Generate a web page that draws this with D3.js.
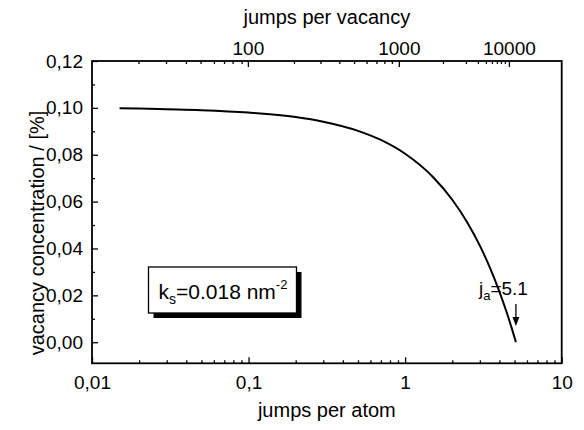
<!DOCTYPE html>
<html><head><meta charset="utf-8">
<script src="https://cdn.jsdelivr.net/npm/d3@7"></script>
<style>
body{margin:0;background:#fff}
text{font-family:"Liberation Sans",Arial,Helvetica,sans-serif;fill:#000}
</style>
</head><body>
<svg id="c" width="584" height="430"></svg>
<script>
// ---- data ----
const jumpsPerAtom = [0.015, 0.02, 0.03, 0.05, 0.1, 0.2, 0.3, 0.5, 0.7, 1.0, 1.5, 2.0, 2.5, 3.0, 3.5, 4.0, 4.5, 4.8, 5.1];
const vacancyConc  = [0.0998, 0.0997, 0.0994, 0.0990, 0.0980, 0.0961, 0.0941, 0.0902, 0.0863, 0.0804, 0.0706, 0.0608, 0.0510, 0.0412, 0.0314, 0.0216, 0.0118, 0.0059, 0.0000];

const xTickValues = [0.01, 0.1, 1, 10];
const xTickLabels = ["0,01", "0,1", "1", "10"];
const xMinorValues = [0.02,0.03,0.04,0.05,0.06,0.07,0.08,0.09,0.2,0.3,0.4,0.5,0.6,0.7,0.8,0.9,2,3,4,5,6,7,8,9];

const yTickValues = [0, 0.02, 0.04, 0.06, 0.08, 0.10, 0.12];
const yTickLabels = ["0,00", "0,02", "0,04", "0,06", "0,08", "0,10", "0,12"];
const yMinorValues = [0.01, 0.03, 0.05, 0.07, 0.09, 0.11];

// top axis: jumps per vacancy, placed at the equivalent jumps per atom
const topTickLabels  = ["100", "1000", "10000"];
const topTickAtAtom  = [0.099, 0.912, 4.60];
const topMinorAtAtom = [0.0198, 0.0297, 0.0398, 0.0494, 0.0601, 0.0697, 0.0791, 0.0903,
                        0.195, 0.288, 0.380, 0.472, 0.567, 0.656, 0.737, 0.823,
                        1.744, 2.445, 2.917, 3.281, 3.584, 3.857, 4.090, 4.338];

const xTitle = "jumps per atom";
const topTitle = "jumps per vacancy";
const yTitle = "vacancy concentration / [%]";
const arrowAtAtom = 5.1;

// ---- layout ----
const W = 584, H = 430;
const m = {left: 92, right: 22.3, top: 61, bottom: 66.7};
const svg = d3.select("#c");

const x = d3.scaleLog().domain([0.01, 10]).range([m.left, W - m.right]);
const y = d3.scaleLinear().domain([-0.009, 0.12]).range([H - m.bottom, m.top]);

const fs = 19;

// minor ticks
svg.append("g").attr("transform", `translate(0,${H - m.bottom})`)
  .call(d3.axisBottom(x).tickValues(xMinorValues).tickFormat("").tickSize(-3))
  .call(g => g.select(".domain").remove());
svg.append("g").attr("transform", `translate(${m.left},0)`)
  .call(d3.axisLeft(y).tickValues(yMinorValues).tickFormat("").tickSize(-3))
  .call(g => g.select(".domain").remove());
svg.append("g").attr("transform", `translate(0,${m.top})`)
  .call(d3.axisTop(x).tickValues(topMinorAtAtom).tickFormat("").tickSize(-3))
  .call(g => g.select(".domain").remove());

// major axes
const bx = svg.append("g").attr("transform", `translate(0,${H - m.bottom})`)
  .call(d3.axisBottom(x).tickValues(xTickValues).tickFormat((d,i)=>xTickLabels[i]).tickSize(-6).tickPadding(12));
const ly = svg.append("g").attr("transform", `translate(${m.left},0)`)
  .call(d3.axisLeft(y).tickValues(yTickValues).tickFormat((d,i)=>yTickLabels[i]).tickSize(-6).tickPadding(9));
const tx = svg.append("g").attr("transform", `translate(0,${m.top})`)
  .call(d3.axisTop(x).tickValues(topTickAtAtom).tickFormat((d,i)=>topTickLabels[i]).tickSize(-6).tickPadding(6));

[bx, ly, tx].forEach(g => {
  g.select(".domain").remove();
  g.selectAll("text").attr("font-size", fs).attr("font-family", null);
});
svg.selectAll("g.tick line").attr("stroke", "#000").attr("stroke-width", 1.3);

// frame
svg.append("rect")
  .attr("x", m.left).attr("y", m.top)
  .attr("width", W - m.left - m.right).attr("height", H - m.top - m.bottom)
  .attr("fill", "none").attr("stroke", "#000").attr("stroke-width", 1.8);

// curve
const line = d3.line().x((d,i)=>x(jumpsPerAtom[i])).y(d=>y(d)).curve(d3.curveMonotoneX);
svg.append("path").datum(vacancyConc)
  .attr("d", line).attr("fill", "none").attr("stroke", "#000").attr("stroke-width", 2);

// titles
const cx = (m.left + W - m.right) / 2;
svg.append("text").attr("x", cx).attr("y", 417).attr("text-anchor", "middle")
  .attr("font-size", 20).text(xTitle);
svg.append("text").attr("x", cx).attr("y", 24).attr("text-anchor", "middle")
  .attr("font-size", 20).text(topTitle);
svg.append("text").attr("transform", "translate(44,233) rotate(-90)").attr("text-anchor", "middle")
  .attr("font-size", 20).text(yTitle);

// k_s box with shadow
const bxL = 148.5, byT = 267, bw = 148, bh = 46;
svg.append("rect").attr("x", bxL + 5).attr("y", byT + 5).attr("width", bw).attr("height", bh).attr("fill", "#000");
svg.append("rect").attr("x", bxL).attr("y", byT).attr("width", bw).attr("height", bh)
  .attr("fill", "#fff").attr("stroke", "#000").attr("stroke-width", 1.3);
const kt = svg.append("text").attr("x", bxL + 10).attr("y", byT + 32).attr("font-size", 21);
kt.append("tspan").text("k");
kt.append("tspan").attr("font-size", 14).attr("dy", 5).text("s");
kt.append("tspan").attr("dy", -5).text("=0.018 nm");
kt.append("tspan").attr("font-size", 13).attr("dy", -10).text("-2");

// j_a annotation with arrow
const ax = x(arrowAtAtom);
const jt = svg.append("text").attr("x", ax + 12).attr("y", 295).attr("text-anchor", "end").attr("font-size", 19);
jt.append("tspan").text("j");
jt.append("tspan").attr("font-size", 13).attr("dy", 5).text("a");
jt.append("tspan").attr("dy", -5).text("=5.1");
svg.append("line").attr("x1", ax).attr("x2", ax).attr("y1", 304).attr("y2", 319)
  .attr("stroke", "#000").attr("stroke-width", 1.3);
svg.append("path").attr("d", `M${ax-3.5},317 L${ax+3.5},317 L${ax},326 Z`).attr("fill", "#000");
</script>
</body></html>
